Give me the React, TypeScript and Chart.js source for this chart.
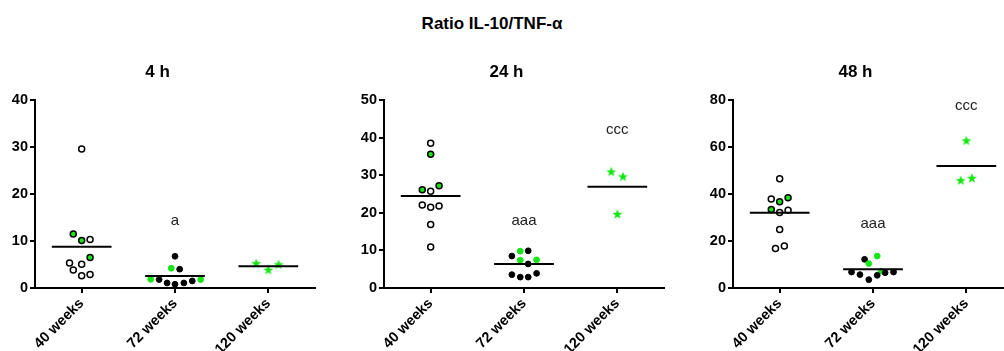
import React, { useEffect, useRef } from "react";
import { Chart, registerables } from "chart.js";

Chart.register(...registerables);

// ---------- data ----------
const categories = ["40 weeks", "72 weeks", "120 weeks"];
const mainTitle = "Ratio IL-10/TNF-α";
const panelTitles = ["4 h", "24 h", "48 h"];
const yMaxes = [40, 50, 80];
const ySteps = [10, 10, 20];

// 4 h
const h4W40 = [29.6, 11.5, 10.1, 10.3, 6.5, 5.3, 5.05, 3.85, 2.6, 2.85];
const h4W40Green = [0, 1, 1, 0, 1, 0, 0, 0, 0, 0];
const h4W40Jitter = [0, -0.09, 0, 0.09, 0.09, -0.13, 0, -0.09, 0, 0.09];
const h4W72 = [6.75, 4.2, 4.0, 1.85, 1.8, 1.07, 0.8, 1.07, 1.5, 1.8];
const h4W72Green = [0, 1, 0, 1, 0, 0, 0, 0, 0, 1];
const h4W72Jitter = [0, -0.04, 0.05, -0.26, -0.17, -0.085, 0, 0.095, 0.185, 0.275];
const h4W120 = [5.3, 3.9, 5.05];
const h4W120Jitter = [-0.13, 0, 0.11];
const h4Means = [8.8, 2.55, 4.63];
const h4Letters = ["", "a", ""];
const h4LetterY = [0, 13.4, 0];

// 24 h
const h24W40 = [38.5, 35.6, 26.1, 27.2, 25.7, 22.1, 21.5, 21.8, 16.9, 10.9];
const h24W40Green = [0, 1, 1, 1, 0, 0, 0, 0, 0, 0];
const h24W40Jitter = [0, 0, -0.09, 0.09, 0, -0.09, 0, 0.09, 0, 0];
const h24W72 = [8.5, 9.8, 9.9, 7.4, 6.4, 7.5, 3.55, 2.9, 2.9, 3.9];
const h24W72Green = [0, 1, 0, 1, 0, 1, 0, 0, 0, 0];
const h24W72Jitter = [-0.13, -0.04, 0.045, -0.04, 0.045, 0.135, -0.13, -0.04, 0.045, 0.135];
const h24W120 = [31.0, 29.7, 19.7];
const h24W120Jitter = [-0.065, 0.06, 0];
const h24Means = [24.5, 6.4, 26.9];
const h24Letters = ["", "aaa", "ccc"];
const h24LetterY = [0, 16.8, 40.9];

// 48 h
const h48W40 = [46.5, 37.9, 36.7, 38.4, 33.4, 32.1, 33.1, 24.9, 16.8, 17.9];
const h48W40Green = [0, 0, 1, 1, 1, 0, 0, 0, 0, 0];
const h48W40Jitter = [0, -0.09, 0, 0.09, -0.09, 0, 0.09, 0, -0.045, 0.05];
const h48W72 = [12.2, 10.4, 13.6, 7.2, 6.8, 5.7, 3.55, 5.4, 6.5, 6.8];
const h48W72Green = [0, 1, 1, 1, 0, 0, 0, 0, 0, 0];
const h48W72Jitter = [-0.09, -0.045, 0.045, 0.085, -0.23, -0.14, -0.045, 0.045, 0.13, 0.22];
const h48W120 = [62.8, 45.9, 46.9];
const h48W120Jitter = [0, -0.06, 0.06];
const h48Means = [32.0, 8.0, 51.9];
const h48Letters = ["", "aaa", "ccc"];
const h48LetterY = [0, 25.4, 75.7];

// ---------- styling ----------
const GREEN = "#14e614";
const FONT = '"Liberation Sans", Arial, Helvetica, sans-serif';

type Panel = {
  title: string;
  yMax: number;
  yStep: number;
  w40: number[]; w40Green: number[]; w40Jitter: number[];
  w72: number[]; w72Green: number[]; w72Jitter: number[];
  w120: number[]; w120Jitter: number[];
  means: number[];
  letters: string[]; letterY: number[];
};

const panels: Panel[] = [
  { title: panelTitles[0], yMax: yMaxes[0], yStep: ySteps[0], w40: h4W40, w40Green: h4W40Green, w40Jitter: h4W40Jitter, w72: h4W72, w72Green: h4W72Green, w72Jitter: h4W72Jitter, w120: h4W120, w120Jitter: h4W120Jitter, means: h4Means, letters: h4Letters, letterY: h4LetterY },
  { title: panelTitles[1], yMax: yMaxes[1], yStep: ySteps[1], w40: h24W40, w40Green: h24W40Green, w40Jitter: h24W40Jitter, w72: h24W72, w72Green: h24W72Green, w72Jitter: h24W72Jitter, w120: h24W120, w120Jitter: h24W120Jitter, means: h24Means, letters: h24Letters, letterY: h24LetterY },
  { title: panelTitles[2], yMax: yMaxes[2], yStep: ySteps[2], w40: h48W40, w40Green: h48W40Green, w40Jitter: h48W40Jitter, w72: h48W72, w72Green: h48W72Green, w72Jitter: h48W72Jitter, w120: h48W120, w120Jitter: h48W120Jitter, means: h48Means, letters: h48Letters, letterY: h48LetterY },
];

function makeStar(): HTMLCanvasElement {
  const c = document.createElement("canvas");
  const s = 12;
  c.width = s;
  c.height = s;
  const ctx = c.getContext("2d")!;
  const cx = s / 2, cy = s / 2 + 0.5, R = 5.2, r = 2.2;
  ctx.beginPath();
  for (let i = 0; i < 10; i++) {
    const rad = i % 2 === 0 ? R : r;
    const a = -Math.PI / 2 + (i * Math.PI) / 5;
    const px = cx + rad * Math.cos(a), py = cy + rad * Math.sin(a);
    if (i === 0) ctx.moveTo(px, py); else ctx.lineTo(px, py);
  }
  ctx.closePath();
  ctx.fillStyle = GREEN;
  ctx.fill();
  return c;
}

const lettersPlugin = {
  id: "letters",
  afterDatasetsDraw(chart: any, _args: any, opts: any) {
    const { ctx, scales } = chart;
    ctx.save();
    ctx.font = `15px ${FONT}`;
    ctx.fillStyle = "#222";
    ctx.textAlign = "center";
    ctx.textBaseline = "alphabetic";
    (opts.items || []).forEach((it: any) => {
      if (!it.text) return;
      ctx.fillText(it.text, scales.x.getPixelForValue(it.x), scales.y.getPixelForValue(it.y));
    });
    ctx.restore();
  },
};

function PanelChart({ p, left }: { p: Panel; left: number }) {
  const ref = useRef<HTMLCanvasElement>(null);
  useEffect(() => {
    const star = makeStar();
    const meanSets = p.means.map((m, i) => ({
      type: "scatter" as const,
      data: [{ x: i - 0.32, y: m }, { x: i + 0.32, y: m }],
      showLine: true,
      borderColor: "#000",
      borderWidth: 2,
      pointRadius: 0,
      clip: false as any,
    }));
    const chart = new Chart(ref.current!, {
      type: "scatter",
      data: {
        datasets: [
          ...meanSets,
          {
            data: p.w40.map((v, i) => ({ x: 0 + p.w40Jitter[i], y: v })),
            backgroundColor: p.w40Green.map((g) => (g ? GREEN : "#fff")),
            borderColor: "#000",
            borderWidth: 1.5,
            pointRadius: 3,
            clip: false as any,
          },
          {
            data: p.w72.map((v, i) => ({ x: 1 + p.w72Jitter[i], y: v })),
            backgroundColor: p.w72Green.map((g) => (g ? GREEN : "#000")),
            borderColor: p.w72Green.map((g) => (g ? GREEN : "#000")),
            borderWidth: 1,
            pointRadius: 2.9,
            clip: false as any,
          },
          {
            data: p.w120.map((v, i) => ({ x: 2 + p.w120Jitter[i], y: v })),
            pointStyle: star as any,
            pointRadius: 6,
            clip: false as any,
          },
        ],
      },
      options: {
        responsive: false,
        animation: false,
        events: [],
        layout: { padding: { left: 0, right: 15, top: 0, bottom: 0 } },
        plugins: {
          legend: { display: false },
          tooltip: { enabled: false },
          title: {
            display: true,
            text: p.title,
            color: "#000",
            font: { family: FONT, size: 17, weight: "bold" },
            padding: { top: 62, bottom: 17.6 },
          },
          letters: {
            items: p.letters.map((t, i) => ({ text: t, x: i, y: p.letterY[i] })),
          },
        } as any,
        scales: {
          x: {
            type: "linear",
            min: -0.5,
            max: 2.5,
            afterBuildTicks: (s: any) => {
              s.ticks = categories.map((_, i) => ({ value: i }));
            },
            afterFit: (s: any) => {
              s.height = 63;
            },
            ticks: {
              autoSkip: false,
              minRotation: 45,
              maxRotation: 45,
              padding: 2,
              color: "#000",
              font: { family: FONT, size: 14.5, weight: "bold" },
              callback: (_v: any, i: number) => categories[i],
            },
            grid: { display: true, drawOnChartArea: false, drawTicks: true, tickLength: 5, color: "#000", lineWidth: 2 },
            border: { display: true, color: "#000", width: 2 },
          },
          y: {
            min: 0,
            max: p.yMax,
            afterFit: (s: any) => {
              s.width = 35;
            },
            ticks: {
              stepSize: p.yStep,
              padding: 2,
              color: "#000",
              font: { family: FONT, size: 14.5, weight: "bold" },
            },
            grid: { display: true, drawOnChartArea: false, drawTicks: true, tickLength: 5, color: "#000", lineWidth: 2 },
            border: { display: true, color: "#000", width: 2 },
          },
        },
      },
      plugins: [lettersPlugin],
    } as any);
    return () => chart.destroy();
  }, [p]);
  return (
    <canvas
      ref={ref}
      width={330}
      height={351}
      style={{ position: "absolute", left, top: 0, width: 330, height: 351 }}
    />
  );
}

export default function App() {
  const lefts = [0, 349, 698];
  return (
    <div
      style={{
        position: "fixed",
        left: 0,
        top: 0,
        width: 1004,
        height: 351,
        overflow: "hidden",
        background: "#fff",
      }}
    >
      <div
        style={{
          position: "absolute",
          left: 0,
          top: 14,
          width: 984,
          textAlign: "center",
          fontFamily: FONT,
          fontWeight: "bold",
          fontSize: 17,
          lineHeight: "20px",
          color: "#000",
        }}
      >
        {mainTitle}
      </div>
      {panels.map((p, i) => (
        <PanelChart key={i} p={p} left={lefts[i]} />
      ))}
    </div>
  );
}
